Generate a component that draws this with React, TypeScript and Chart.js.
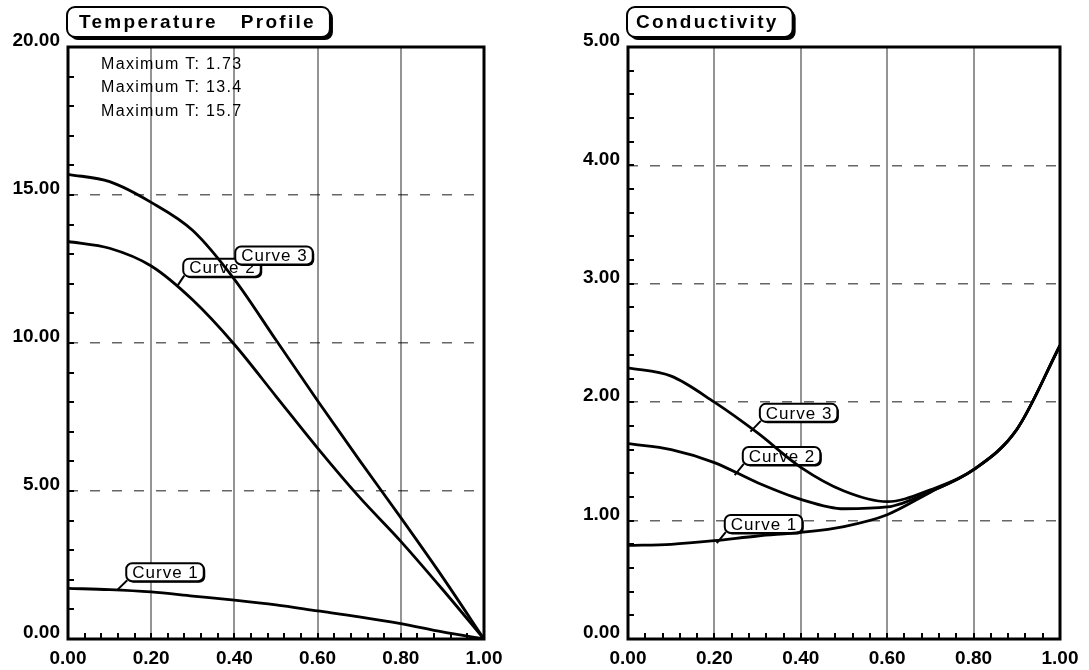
import React, { useEffect, useRef } from "react";
import { Chart, registerables } from "chart.js";
Chart.register(...registerables);

// ---- data ----
const xValues = [0, 0.1, 0.2, 0.3, 0.4, 0.5, 0.6, 0.7, 0.8, 0.9, 1.0];
const tempCurve1 = [1.71, 1.67, 1.59, 1.45, 1.31, 1.15, 0.95, 0.75, 0.52, 0.24, 0];
const tempCurve2 = [13.43, 13.2, 12.6, 11.45, 9.95, 8.2, 6.45, 4.8, 3.3, 1.68, 0];
const tempCurve3 = [15.7, 15.45, 14.75, 13.8, 12.15, 10.1, 8.05, 6.05, 4.1, 2.1, 0];
const condCurve1 = [0.79, 0.8, 0.83, 0.87, 0.9, 0.95, 1.05, 1.24, 1.43, 1.77, 2.48];
const condCurve2 = [1.65, 1.6, 1.49, 1.32, 1.18, 1.1, 1.115, 1.245, 1.43, 1.77, 2.48];
const condCurve3 = [2.29, 2.22, 2.0, 1.74, 1.45, 1.25, 1.16, 1.26, 1.43, 1.77, 2.48];
const tempMaxNotes = ["Maximum T: 1.73", "Maximum T: 13.4", "Maximum T: 15.7"];
const tempNoteY = [19.41, 18.62, 17.82];
const curveNames = ["Curve 1", "Curve 2", "Curve 3"];

const FONT = '"Liberation Sans", Arial, Helvetica, sans-serif';

type Label = { text: string; x: number; y: number; tx?: number; ty?: number };

const tempLabels: Label[] = [
  { text: curveNames[0], x: 0.14, y: 2.56, tx: 0.118, ty: 1.65 },
  { text: curveNames[1], x: 0.277, y: 12.85, tx: 0.263, ty: 11.93 },
  { text: curveNames[2], x: 0.402, y: 13.26 },
];
const condLabels: Label[] = [
  { text: curveNames[0], x: 0.224, y: 1.047, tx: 0.2055, ty: 0.81 },
  { text: curveNames[1], x: 0.2657, y: 1.622, tx: 0.247, ty: 1.384 },
  { text: curveNames[2], x: 0.3052, y: 1.986, tx: 0.2835, ty: 1.751 },
];

function drawBox(ctx: CanvasRenderingContext2D, x: number, y: number, w: number, h: number, r: number, sh: number, lw: number) {
  ctx.fillStyle = "#000";
  ctx.beginPath();
  (ctx as any).roundRect(x + sh, y + sh, w, h, r);
  ctx.fill();
  ctx.fillStyle = "#fff";
  ctx.beginPath();
  (ctx as any).roundRect(x, y, w, h, r);
  ctx.fill();
  ctx.lineWidth = lw;
  ctx.strokeStyle = "#000";
  ctx.stroke();
}

function makePlugin(p: {
  title: string;
  padL: number;
  padR: number;
  minorX: number;
  minorY: number;
  yMax: number;
  notes?: string[];
  noteY?: number[];
  noteX?: number;
  labels: Label[];
}) {
  return {
    id: "decor",
    beforeDatasetsDraw(chart: any) {
      const { ctx, scales } = chart;
      const xs = scales.x;
      const ys = scales.y;
      ctx.save();
      ctx.font = `17px ${FONT}`;
      (ctx as any).letterSpacing = "1px";
      p.labels.forEach((l) => {
        const lx = xs.getPixelForValue(l.x);
        const ly = ys.getPixelForValue(l.y);
        const w = ctx.measureText(l.text).width + 11;
        const h = 18;
        if (l.tx !== undefined && l.ty !== undefined) {
          ctx.strokeStyle = "#000";
          ctx.lineWidth = 2;
          ctx.beginPath();
          ctx.moveTo(lx + 1, ly + h - 1);
          ctx.lineTo(xs.getPixelForValue(l.tx), ys.getPixelForValue(l.ty));
          ctx.stroke();
        }
        drawBox(ctx, lx, ly, w, h, 6, 1.5, 2);
        ctx.fillStyle = "#000";
        ctx.textBaseline = "middle";
        ctx.textAlign = "left";
        ctx.fillText(l.text, lx + 6, ly + h / 2 + 1);
      });
      ctx.restore();
    },
    afterDraw(chart: any) {
      const { ctx, chartArea: a, scales } = chart;
      const xs = scales.x;
      const ys = scales.y;
      ctx.save();
      // inner minor ticks
      ctx.strokeStyle = "#000";
      ctx.lineWidth = 2;
      const nx = Math.round(1 / p.minorX);
      for (let i = 1; i < nx; i++) {
        const px = Math.round(xs.getPixelForValue(i * p.minorX));
        ctx.beginPath();
        ctx.moveTo(px, a.bottom);
        ctx.lineTo(px, a.bottom - 6);
        ctx.stroke();
      }
      const ny = Math.round(p.yMax / p.minorY);
      for (let i = 1; i < ny; i++) {
        const py = Math.round(ys.getPixelForValue(i * p.minorY));
        ctx.beginPath();
        ctx.moveTo(a.left, py);
        ctx.lineTo(a.left + 6, py);
        ctx.stroke();
      }
      // frame
      ctx.lineWidth = 3;
      ctx.strokeRect(a.left, a.top, a.right - a.left, a.bottom - a.top);

      // title
      ctx.font = `bold 19px ${FONT}`;
      (ctx as any).letterSpacing = "2.3px";
      const tw = ctx.measureText(p.title).width;
      const bx = a.left - 1;
      const by = a.top - 40;
      const bh = 30;
      drawBox(ctx, bx, by, tw + p.padL + p.padR, bh, 8, 3, 2);
      ctx.fillStyle = "#000";
      ctx.textBaseline = "middle";
      ctx.textAlign = "left";
      ctx.fillText(p.title, bx + p.padL, by + bh / 2 + 1);

      // notes
      if (p.notes && p.noteY) {
        ctx.font = `16px ${FONT}`;
        (ctx as any).letterSpacing = "1.3px";
        p.notes.forEach((t, i) => {
          ctx.fillText(t, xs.getPixelForValue(p.noteX || 0), ys.getPixelForValue(p.noteY![i]));
        });
      }
      ctx.restore();
    },
  };
}

function makeConfig(
  series: number[][],
  yMax: number,
  yStep: number,
  rightPad: number,
  plugin: any
): any {
  return {
    type: "line",
    data: {
      datasets: series.map((s, i) => ({
        label: curveNames[i],
        data: xValues.map((x, j) => ({ x, y: s[j] })),
        borderColor: "#000",
        borderWidth: 2.8,
        pointRadius: 0,
        fill: false,
        cubicInterpolationMode: "monotone",
      })),
    },
    options: {
      responsive: false,
      animation: false,
      layout: { padding: { top: 47, left: 0, right: rightPad, bottom: 0 } },
      plugins: { legend: { display: false }, tooltip: { enabled: false } },
      scales: {
        x: {
          type: "linear",
          min: 0,
          max: 1,
          afterFit: (s: any) => {
            s.height = 31;
          },
          ticks: {
            stepSize: 0.2,
            padding: 8,
            color: "#000",
            font: { family: FONT, size: 19, weight: "bold" },
            callback: (v: any) => Number(v).toFixed(2),
            maxRotation: 0,
          },
          grid: {
            drawTicks: false,
            lineWidth: 2,
            color: (c: any) =>
              c.tick && c.tick.value > 0.01 && c.tick.value < 0.99 ? "rgba(0,0,0,0.42)" : "rgba(0,0,0,0)",
          },
          border: { display: false },
        },
        y: {
          type: "linear",
          min: 0,
          max: yMax,
          afterFit: (s: any) => {
            s.width = 68;
          },
          ticks: {
            stepSize: yStep,
            padding: 8,
            labelOffset: -6,
            color: "#000",
            font: { family: FONT, size: 19, weight: "bold" },
            callback: (v: any) => Number(v).toFixed(2),
          },
          grid: {
            drawTicks: false,
            lineWidth: 1.5,
            color: (c: any) =>
              c.tick && c.tick.value > 0.001 && c.tick.value < yMax - 0.001 ? "rgba(0,0,0,0.6)" : "rgba(0,0,0,0)",
          },
          border: { display: false, dash: [10, 12] },
        },
      },
    },
    plugins: [plugin],
  };
}

export default function App() {
  const leftRef = useRef<HTMLCanvasElement>(null);
  const rightRef = useRef<HTMLCanvasElement>(null);

  useEffect(() => {
    const left = new Chart(
      leftRef.current!,
      makeConfig(
        [tempCurve1, tempCurve2, tempCurve3],
        20,
        5,
        61,
        makePlugin({
          title: "Temperature   Profile",
          padL: 12,
          padR: 14,
          minorX: 0.04,
          minorY: 1,
          yMax: 20,
          notes: tempMaxNotes,
          noteY: tempNoteY,
          noteX: 0.0795,
          labels: tempLabels,
        })
      )
    );
    const right = new Chart(
      rightRef.current!,
      makeConfig(
        [condCurve1, condCurve2, condCurve3],
        5,
        1,
        29,
        makePlugin({
          title: "Conductivity",
          padL: 9,
          padR: 14,
          minorX: 0.04,
          minorY: 0.2,
          yMax: 5,
          labels: condLabels,
        })
      )
    );
    return () => {
      left.destroy();
      right.destroy();
    };
  }, []);

  return (
    <div style={{ position: "fixed", left: 0, top: 0, width: 1089, height: 670, background: "#fff" }}>
      <canvas ref={leftRef} width={545} height={670} style={{ position: "absolute", left: 0, top: 0, width: 545, height: 670 }} />
      <canvas ref={rightRef} width={529} height={670} style={{ position: "absolute", left: 560, top: 0, width: 529, height: 670 }} />
    </div>
  );
}
